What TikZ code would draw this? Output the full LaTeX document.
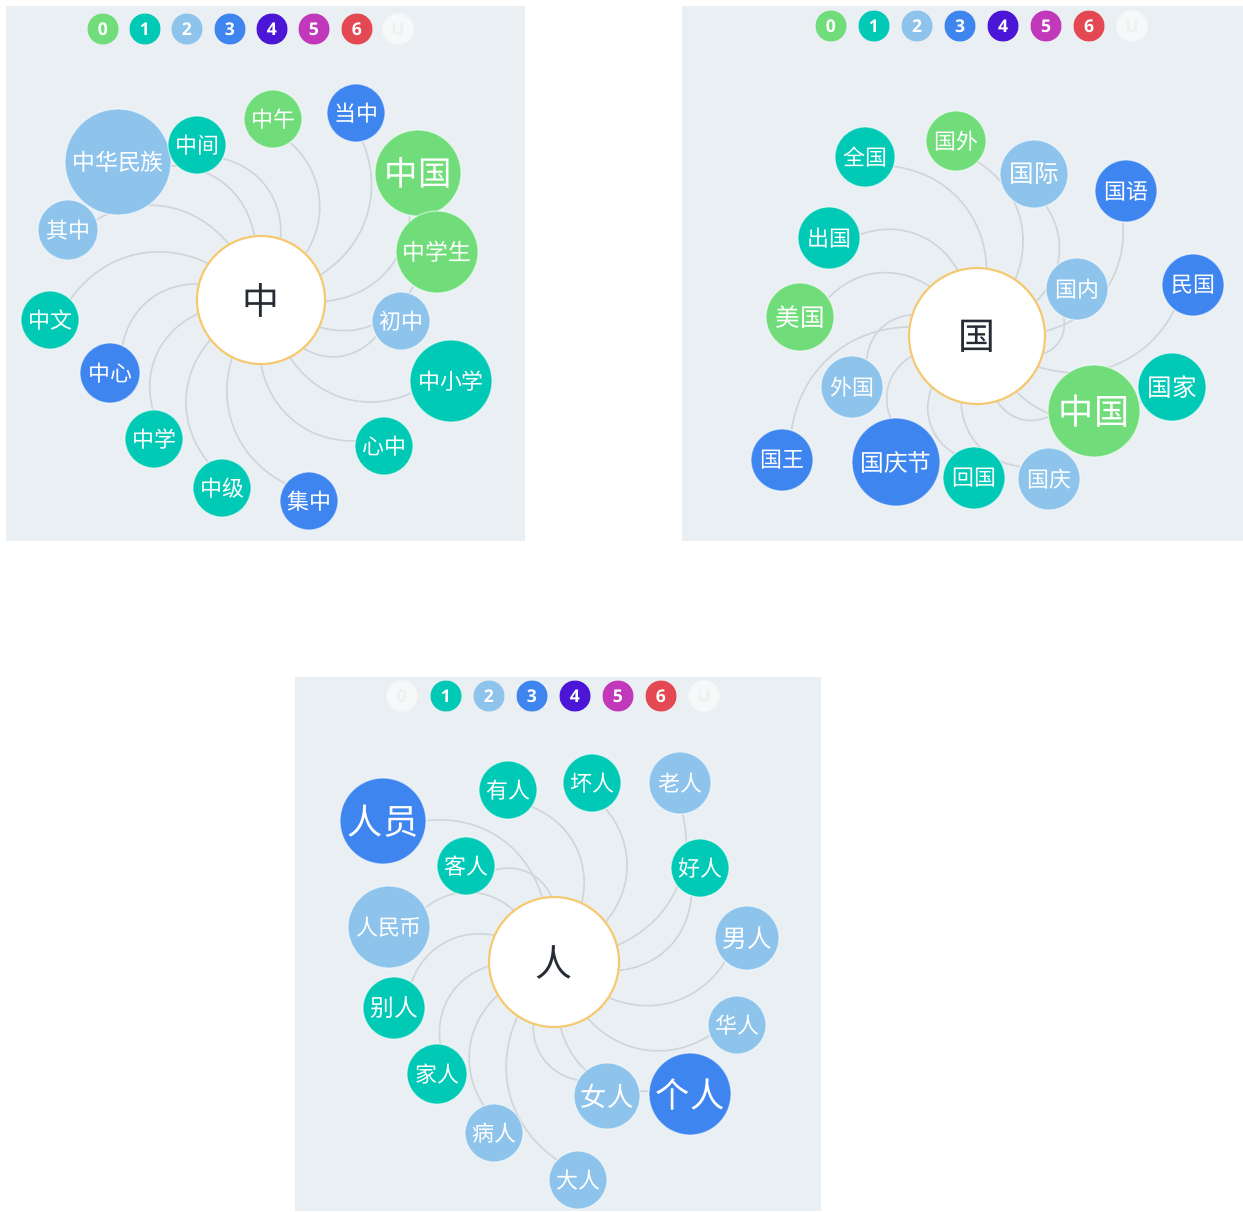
\documentclass[tikz,border=0pt]{standalone}
\usepackage{fontspec}
\newfontfamily\cjk{Noto Sans CJK SC}
\newfontfamily\digitfont{Open Sans}
\usetikzlibrary{backgrounds}
\definecolor{LvlZero}{RGB}{112, 221, 122}
\definecolor{LvlOne}{RGB}{0, 201, 182}
\definecolor{LvlTwo}{RGB}{142, 196, 236}
\definecolor{LvlThree}{RGB}{62, 133, 240}
\definecolor{LvlFour}{RGB}{76, 22, 214}
\definecolor{LvlFive}{RGB}{194, 56, 186}
\definecolor{LvlSix}{RGB}{228, 72, 82}
\definecolor{PanelBg}{RGB}{233, 239, 243}
\definecolor{LinkGray}{RGB}{208, 213, 218}
\definecolor{HubRing}{RGB}{246, 201, 112}
\definecolor{HubText}{RGB}{38, 44, 52}

\begin{document}
\begin{tikzpicture}[
        x=0.02cm, y=0.02cm,
        panel/.style={fill=PanelBg, draw=none},
        hub/.style={circle, fill=white, draw=HubRing, line width=1.2pt, text=HubText, inner sep=0pt, font=\cjk\fontsize{21}{21}\selectfont},
        word/.style={circle, fill=#1, draw=white, draw opacity=0.55, line width=0.7pt, text=white, inner sep=0pt, font=\cjk\fontsize{12.5}{12.5}\selectfont},
        sz/.style={minimum size=#1*0.04cm},
        fs/.style={font=\cjk\fontsize{#1}{#1}\selectfont},
        lvl/.style={circle, fill=#1, minimum size=0.62cm, inner sep=0pt, text=white, font=\digitfont\bfseries\fontsize{10}{10}\selectfont},
        lvloff/.style={circle, fill=PanelBg!40!white, draw=black!4, line width=0.6pt, minimum size=0.62cm, inner sep=0pt, text=black!6, font=\digitfont\bfseries\fontsize{10}{10}\selectfont},
        link/.style={draw=LinkGray, line width=0.9pt, bend right=40}
      ]
        \useasboundingbox (0,0) rectangle (1243,-1211);

        % Panels
        \begin{scope}[on background layer]
          \fill[white] (0,0) rectangle (1243,-1211);
          \fill[panel] (6,-6) rectangle (525,-541);
          \fill[panel] (682,-6) rectangle (1243,-541);
          \fill[panel] (295,-677) rectangle (821,-1211);
        \end{scope}

        % Panel 1: levels
        \node[lvl=LvlZero] (z-l0) at (103,-29) {0};
        \node[lvl=LvlOne] (z-l1) at (145,-29) {1};
        \node[lvl=LvlTwo] (z-l2) at (187,-29) {2};
        \node[lvl=LvlThree] (z-l3) at (230,-29) {3};
        \node[lvl=LvlFour] (z-l4) at (272,-29) {4};
        \node[lvl=LvlFive] (z-l5) at (314,-29) {5};
        \node[lvl=LvlSix] (z-l6) at (357,-29) {6};
        \node[lvloff] (z-lu) at (398,-29) {U};

        % Panel 1: words with 中
        \node[hub, sz=64] (z-hub) at (261,-300) {中};
        \node[word=LvlTwo, sz=30] (z-qizhong) at (68,-230) {其中};
        \node[word=LvlTwo, sz=53, fs=13] (z-zhonghua) at (118,-162) {中华民族};
        \node[word=LvlOne, sz=29] (z-zhongjian) at (197,-145) {中间};
        \node[word=LvlZero, sz=29] (z-zhongwu) at (273,-119) {中午};
        \node[word=LvlThree, sz=29] (z-dangzhong) at (356,-113) {当中};
        \node[word=LvlZero, sz=43, fs=19] (z-zhongguo) at (418,-173) {中国};
        \node[word=LvlZero, sz=41, fs=13] (z-zhongxuesheng) at (437,-252) {中学生};
        \node[word=LvlTwo, sz=29] (z-chuzhong) at (401,-321) {初中};
        \node[word=LvlOne, sz=41] (z-zhongxiaoxue) at (451,-381) {中小学};
        \node[word=LvlOne, sz=29] (z-xinzhong) at (384,-446) {心中};
        \node[word=LvlThree, sz=29] (z-jizhong) at (309,-501) {集中};
        \node[word=LvlOne, sz=29] (z-zhongji) at (222,-488) {中级};
        \node[word=LvlOne, sz=29] (z-zhongxue) at (154,-439) {中学};
        \node[word=LvlThree, sz=30] (z-zhongxin) at (110,-373) {中心};
        \node[word=LvlOne, sz=29] (z-zhongwen) at (50,-320) {中文};

        % Panel 2: levels
        \node[lvl=LvlZero] (g-l0) at (831,-26) {0};
        \node[lvl=LvlOne] (g-l1) at (874,-26) {1};
        \node[lvl=LvlTwo] (g-l2) at (917,-26) {2};
        \node[lvl=LvlThree] (g-l3) at (960,-26) {3};
        \node[lvl=LvlFour] (g-l4) at (1003,-26) {4};
        \node[lvl=LvlFive] (g-l5) at (1046,-26) {5};
        \node[lvl=LvlSix] (g-l6) at (1089,-26) {6};
        \node[lvloff] (g-lu) at (1132,-26) {U};

        % Panel 2: words with 国
        \node[hub, sz=68] (g-hub) at (977,-336) {国};
        \node[word=LvlOne, sz=30] (g-quanguo) at (865,-157) {全国};
        \node[word=LvlZero, sz=30] (g-guowai) at (956,-141) {国外};
        \node[word=LvlTwo, sz=34, fs=14] (g-guoji) at (1034,-174) {国际};
        \node[word=LvlThree, sz=31] (g-guoyu) at (1126,-191) {国语};
        \node[word=LvlTwo, sz=31] (g-guonei) at (1077,-289) {国内};
        \node[word=LvlThree, sz=31] (g-minguo) at (1193,-285) {民国};
        \node[word=LvlZero, sz=46, fs=20] (g-zhongguo) at (1094,-411) {中国};
        \node[word=LvlOne, sz=34, fs=14] (g-guojia) at (1172,-387) {国家};
        \node[word=LvlTwo, sz=31] (g-guoqing) at (1049,-479) {国庆};
        \node[word=LvlOne, sz=31] (g-huiguo) at (974,-478) {回国};
        \node[word=LvlThree, sz=44, fs=13.5] (g-guoqingjie) at (896,-462) {国庆节};
        \node[word=LvlThree, sz=31] (g-guowang) at (782,-460) {国王};
        \node[word=LvlTwo, sz=31] (g-waiguo) at (852,-387) {外国};
        \node[word=LvlZero, sz=34, fs=14] (g-meiguo) at (800,-317) {美国};
        \node[word=LvlOne, sz=31] (g-chuguo) at (829,-238) {出国};

        % Panel 3: levels
        \node[lvloff] (r-l0) at (402,-696) {0};
        \node[lvl=LvlOne] (r-l1) at (446,-696) {1};
        \node[lvl=LvlTwo] (r-l2) at (489,-696) {2};
        \node[lvl=LvlThree] (r-l3) at (532,-696) {3};
        \node[lvl=LvlFour] (r-l4) at (575,-696) {4};
        \node[lvl=LvlFive] (r-l5) at (618,-696) {5};
        \node[lvl=LvlSix] (r-l6) at (661,-696) {6};
        \node[lvloff] (r-lu) at (704,-696) {U};

        % Panel 3: words with 人
        \node[hub, sz=65] (r-hub) at (554,-962) {人};
        \node[word=LvlThree, sz=43, fs=20] (r-renyuan) at (383,-821) {人员};
        \node[word=LvlOne, sz=29] (r-youren) at (508,-790) {有人};
        \node[word=LvlOne, sz=29] (r-huairen) at (592,-783) {坏人};
        \node[word=LvlTwo, sz=31] (r-laoren) at (680,-783) {老人};
        \node[word=LvlOne, sz=29] (r-haoren) at (700,-868) {好人};
        \node[word=LvlTwo, sz=32, fs=14] (r-nanren) at (747,-938) {男人};
        \node[word=LvlTwo, sz=29] (r-huaren) at (737,-1025) {华人};
        \node[word=LvlThree, sz=41, fs=19.5] (r-geren) at (690,-1094) {个人};
        \node[word=LvlTwo, sz=33, fs=15] (r-nvren) at (607,-1096) {女人};
        \node[word=LvlTwo, sz=29] (r-daren) at (578,-1180) {大人};
        \node[word=LvlTwo, sz=29] (r-bingren) at (494,-1133) {病人};
        \node[word=LvlOne, sz=30] (r-jiaren) at (437,-1074) {家人};
        \node[word=LvlOne, sz=31, fs=13.5] (r-bieren) at (394,-1008) {别人};
        \node[word=LvlTwo, sz=41] (r-renminbi) at (389,-927) {人民币};
        \node[word=LvlOne, sz=29] (r-keren) at (466,-866) {客人};

        % Connections
        \begin{scope}[on background layer]
          \foreach \w in {qizhong, zhonghua, zhongjian, zhongwu, dangzhong, zhongguo, zhongxuesheng, chuzhong,
                          zhongxiaoxue, xinzhong, jizhong, zhongji, zhongxue, zhongxin, zhongwen}
            \draw[link] (z-hub) to (z-\w);
          \foreach \w in {quanguo, guowai, guoji, guoyu, guonei, minguo, zhongguo, guojia,
                          guoqing, huiguo, guoqingjie, guowang, waiguo, meiguo, chuguo}
            \draw[link] (g-hub) to (g-\w);
          \foreach \w in {renyuan, youren, huairen, laoren, haoren, nanren, huaren, geren,
                          nvren, daren, bingren, jiaren, bieren, renminbi, keren}
            \draw[link] (r-hub) to (r-\w);
        \end{scope}
      \end{tikzpicture}
\end{document}
